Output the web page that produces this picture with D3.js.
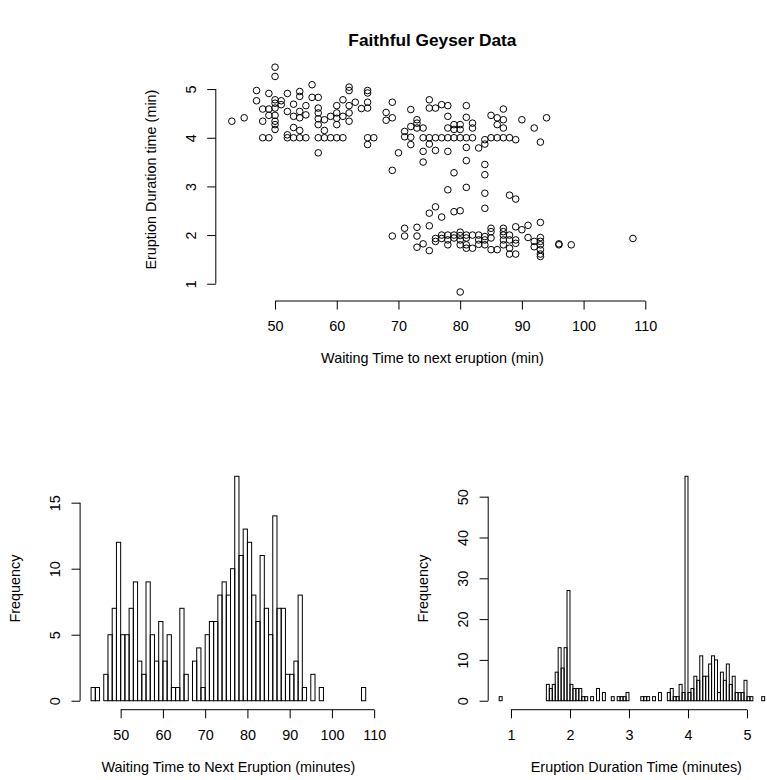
<!DOCTYPE html>
<html lang="en">
<head>
<meta charset="utf-8">
<title>Faithful Geyser Data</title>
<script src="https://cdn.jsdelivr.net/npm/d3@7"></script>
<style>
  body { margin: 0; background: #fff; }
  svg text { font-family: "Liberation Sans", Arial, Helvetica, sans-serif; fill: #000; }
</style>
</head>
<body>
<script>
// one pair per eruption: waiting time before it and how long it lasted (min)
var waiting = [
  50, 50, 43, 45, 47, 47, 48, 48, 48, 49, 49, 49, 49, 50, 50, 50, 50, 50, 50, 50,
  51, 51, 52, 52, 52, 52, 53, 53, 53, 53, 54, 54, 54, 54, 54, 54, 55, 55, 55, 56,
  56, 57, 57, 57, 57, 57, 57, 57, 58, 58, 58, 59, 59,
  60, 60, 60, 60, 60, 61, 61, 61, 62, 62, 62, 62, 62, 63, 64, 65, 65, 65, 65, 65,
  65, 66, 68, 68, 69, 69, 70, 69, 71, 71, 72, 72, 72, 72, 73, 73, 73, 74, 74, 74,
  74, 75, 75, 75, 75, 76, 76, 76, 77, 77,
  78, 78, 78, 78, 78, 79, 79, 79, 79, 80, 80, 80, 81, 81, 81, 81, 81, 82, 82, 82,
  83, 84, 84, 84, 84, 85, 85, 86, 86, 86, 87, 87, 87, 87, 88, 89, 90, 92, 93, 94,
  69, 71, 71, 73, 73, 73, 74, 75, 75, 75, 76, 76, 76, 77, 77, 77, 78,
  81, 84, 88, 89, 79, 80, 84, 89, 90, 91, 93,
  78, 78, 78, 79, 79, 80, 80, 80, 80, 81, 81, 81, 81, 82, 82, 83, 83, 83, 84, 84,
  84, 85, 85, 85, 85, 86, 87, 87, 87, 87, 87, 88, 88, 88, 88, 89, 89, 89, 91, 92,
  92, 93, 93, 93, 93, 93, 93, 80, 96, 96, 98, 108
];
var duration = [
  5.45, 5.26, 4.34, 4.41, 4.97, 4.76, 4.59, 4.34, 4.00, 4.00, 4.91, 4.59, 4.46, 4.78, 4.71, 4.61, 4.46, 4.34, 4.27, 4.17,
  4.76, 4.68, 4.91, 4.54, 4.06, 4.00, 4.69, 4.44, 4.21, 4.00, 4.95, 4.85, 4.54, 4.41, 4.15, 4.00, 4.66, 4.47, 4.00, 5.09,
  4.83, 4.83, 4.61, 4.51, 4.39, 4.27, 4.00, 3.69, 4.37, 4.15, 4.00, 4.44, 4.00,
  4.66, 4.51, 4.40, 4.27, 4.00, 4.78, 4.44, 4.00, 5.04, 4.97, 4.66, 4.51, 4.34, 4.73, 4.60, 4.97, 4.92, 4.73, 4.61, 4.00,
  3.86, 4.00, 4.52, 4.36, 4.73, 4.41, 3.69, 3.33, 4.13, 4.02, 4.58, 4.23, 4.01, 3.86, 4.37, 4.30, 4.20, 4.20, 4.00, 3.72,
  3.50, 4.78, 4.61, 4.00, 3.87, 4.61, 4.00, 3.74, 4.68, 4.00,
  4.66, 4.44, 4.20, 4.00, 3.72, 4.27, 4.17, 4.00, 3.28, 4.27, 4.17, 4.00, 4.66, 4.42, 4.00, 3.80, 3.53, 4.30, 4.20, 4.00,
  3.79, 3.96, 3.87, 3.45, 3.24, 4.46, 4.00, 4.41, 4.27, 4.00, 4.59, 4.37, 4.20, 4.00, 4.00, 3.96, 4.37, 4.20, 3.91, 4.41,
  1.98, 2.14, 1.98, 2.16, 1.98, 1.75, 1.82, 2.45, 2.19, 1.68, 2.58, 1.93, 1.87, 2.37, 2.00, 1.93, 2.93,
  2.98, 2.86, 2.82, 2.74, 2.48, 2.50, 2.55, 2.17, 2.11, 2.20, 2.26,
  2.00, 1.90, 1.80, 2.00, 1.94, 2.06, 1.99, 1.90, 1.80, 2.00, 1.94, 1.80, 1.73, 2.00, 1.73, 2.00, 1.90, 1.81, 1.97, 1.90,
  1.80, 2.14, 2.07, 1.94, 1.70, 1.70, 2.14, 2.07, 2.00, 1.90, 1.80, 2.00, 1.90, 1.73, 1.61, 1.90, 1.83, 1.61, 1.95, 1.87,
  1.76, 1.95, 1.87, 1.80, 1.70, 1.61, 1.56, 0.83, 1.80, 1.82, 1.80, 1.93
];

// waiting-time histogram: 1-minute bins from 43 to 108
var waitStart = 43, waitStep = 1;
var waitCounts = [
  1, 1, 0, 2, 5, 7, 12, 5, 5, 7, 9, 3, 2, 9, 5, 3, 6, 3, 5, 1,
  1, 7, 2, 0, 3, 4, 1, 5, 6, 6, 8, 9, 8, 10, 17, 11, 13, 12, 8, 6,
  11, 7, 5, 14, 7, 7, 2, 2, 3, 8, 1, 0, 2, 0, 1, 0, 0, 0, 0, 0,
  0, 0, 0, 0, 1
];

// duration histogram: 0.05-minute bins from 0.80 to 5.45
var durStart = 0.8, durStep = 0.05;
var durCounts = [
  1, 0, 0, 0, 0, 0, 0, 0, 0, 0, 0, 0, 0, 0, 0, 0, 4, 3, 4, 7,
  13, 8, 13, 27, 4, 3, 3, 3, 1, 1, 0, 1, 0, 3, 0, 2, 0, 0, 1, 0,
  1, 1, 1, 2, 0, 0, 0, 0, 1, 1, 1, 0, 1, 0, 2, 0, 0, 2, 3, 1,
  1, 4, 2, 55, 2, 3, 6, 5, 11, 6, 6, 9, 11, 10, 2, 7, 5, 9, 4, 6,
  2, 2, 2, 5, 1, 1, 0, 0, 0, 1, 0, 0, 1
];

var w = 767, h = 780;
var fs = 14.4;

var svg = d3.select("body").append("svg")
    .attr("width", w)
    .attr("height", h);

// pad a [lo, hi] extent by 4% each side, like R's default axis style
function padded(ext) {
    var d = (ext[1] - ext[0]) * 0.04;
    return [ext[0] - d, ext[1] + d];
}

// axis line only spans the first to last tick, ticks point outward
function axisBottom(scale, ticks, y) {
    var g = svg.append("g")
        .attr("transform", "translate(0," + y + ")")
        .call(d3.axisBottom(scale).tickValues(ticks).tickSize(8.6).tickSizeOuter(0).tickFormat(d3.format("d")));
    g.select(".domain").remove();
    g.append("line")
        .attr("x1", scale(ticks[0])).attr("x2", scale(ticks[ticks.length - 1]))
        .attr("stroke", "#000");
    g.selectAll(".tick text")
        .attr("y", 30).attr("dy", null)
        .attr("font-size", fs);
    g.attr("font-family", null);
    return g;
}

function axisLeft(scale, ticks, x) {
    var g = svg.append("g")
        .attr("transform", "translate(" + x + ",0)")
        .call(d3.axisLeft(scale).tickValues(ticks).tickSize(8.6).tickSizeOuter(0).tickFormat(d3.format("d")));
    g.select(".domain").remove();
    g.append("line")
        .attr("y1", scale(ticks[0])).attr("y2", scale(ticks[ticks.length - 1]))
        .attr("stroke", "#000");
    g.selectAll(".tick text")
        .attr("x", 0).attr("dy", null)
        .attr("text-anchor", "middle")
        .attr("transform", "translate(-20,0) rotate(-90)")
        .attr("font-size", fs);
    g.attr("font-family", null);
    return g;
}

function label(text, x, y, rotate, opts) {
    var t = svg.append("text")
        .attr("text-anchor", "middle")
        .attr("font-size", (opts && opts.size) || fs)
        .attr("font-weight", (opts && opts.bold) ? "bold" : null)
        .text(text);
    if (rotate) t.attr("transform", "translate(" + x + "," + y + ") rotate(-90)");
    else t.attr("x", x).attr("y", y);
}

// ---- scatter: waiting vs duration ----
var sx = d3.scaleLinear().domain(padded(d3.extent(waiting))).range([215.8, 649]);
var sy = d3.scaleLinear().domain(padded(d3.extent(duration))).range([301, 58.2]);

svg.append("g").selectAll("circle")
    .data(d3.range(waiting.length))
    .enter()
    .append("circle")
    .attr("cx", function(i) { return sx(waiting[i]); })
    .attr("cy", function(i) { return sy(duration[i]); })
    .attr("r", 3.3)
    .attr("fill", "none")
    .attr("stroke", "#000")
    .attr("stroke-width", 1);

axisBottom(sx, [50, 60, 70, 80, 90, 100, 110], 301);
axisLeft(sy, [1, 2, 3, 4, 5], 215.8);
label("Faithful Geyser Data", (215.8 + 649) / 2, 46, false, {size: 17.3, bold: true});
label("Waiting Time to next eruption (min)", (215.8 + 649) / 2, 363);
label("Eruption Duration time (min)", 156, (58.2 + 301) / 2, true);

// ---- histograms ----
function histogram(counts, start, step, xr, xticks, yticks, xlab) {
    var end = start + step * counts.length;
    var x = d3.scaleLinear().domain(padded([start, end])).range(xr);
    var y = d3.scaleLinear().domain(padded([0, d3.max(counts)])).range([709.7, 467.3]);

    svg.append("g").selectAll("rect")
        .data(counts)
        .enter()
        .append("rect")
        .attr("x", function(d, i) { return x(start + i * step); })
        .attr("width", function(d, i) { return x(start + (i + 1) * step) - x(start + i * step); })
        .attr("y", function(d) { return y(d); })
        .attr("height", function(d) { return y(0) - y(d); })
        .attr("fill", "none")
        .attr("stroke", "#000")
        .attr("stroke-width", 1);

    axisBottom(x, xticks, 709.7);
    axisLeft(y, yticks, xr[0]);
    label(xlab, (xr[0] + xr[1]) / 2, 771.7);
    label("Frequency", xr[0] - 60, (467.3 + 709.7) / 2, true);
}

histogram(waitCounts, waitStart, waitStep, [80.1, 376.7],
    [50, 60, 70, 80, 90, 100, 110], [0, 5, 10, 15],
    "Waiting Time to Next Eruption (minutes)");

histogram(durCounts, durStart, durStep, [488.2, 784.5],
    [1, 2, 3, 4, 5], [0, 10, 20, 30, 40, 50],
    "Eruption Duration Time (minutes)");
</script>
</body>
</html>
